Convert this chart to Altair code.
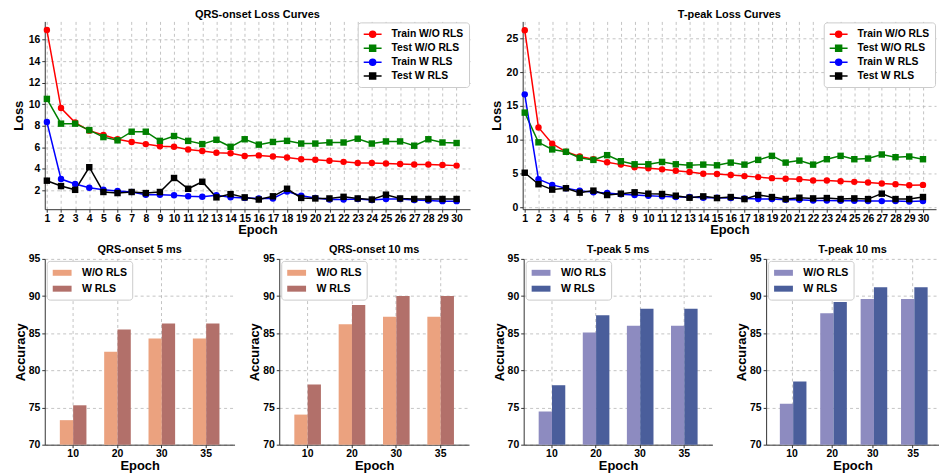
import altair as alt
import pandas as pd

epochs = list(range(1, 31))
series_names = ["Train W/O RLS", "Test W/O RLS", "Train W RLS", "Test W RLS"]
series_colors = ["#ff0000", "#008000", "#0000ff", "#000000"]

qrs_train_wo = [16.9, 9.65, 8.3, 7.55, 7.15, 6.75, 6.5, 6.3, 6.1, 6.05, 5.8, 5.65, 5.5, 5.45, 5.2,
                5.25, 5.15, 5.05, 4.9, 4.85, 4.75, 4.65, 4.55, 4.55, 4.5, 4.45, 4.4, 4.4, 4.35, 4.3]
qrs_test_wo = [10.5, 8.2, 8.2, 7.6, 6.95, 6.65, 7.45, 7.45, 6.6, 7.05, 6.6, 6.3, 6.7, 6.05, 6.75,
               6.25, 6.5, 6.6, 6.35, 6.35, 6.45, 6.45, 6.8, 6.35, 6.55, 6.55, 6.15, 6.75, 6.45, 6.4]
qrs_train_w = [8.35, 3.05, 2.6, 2.25, 2.05, 1.95, 1.85, 1.6, 1.6, 1.55, 1.45, 1.4, 1.55, 1.35, 1.3,
               1.25, 1.25, 1.9, 1.5, 1.3, 1.15, 1.15, 1.2, 1.1, 1.2, 1.2, 1.1, 1.05, 1.0, 1.0]
qrs_test_w = [2.9, 2.4, 2.05, 4.15, 1.85, 1.75, 1.85, 1.75, 1.85, 3.15, 2.15, 2.8, 1.35, 1.65, 1.35,
              1.15, 1.45, 2.15, 1.3, 1.25, 1.25, 1.4, 1.25, 1.15, 1.6, 1.25, 1.2, 1.2, 1.2, 1.2]

tp_train_wo = [26.2, 11.8, 9.4, 8.2, 7.5, 7.1, 6.65, 6.3, 5.9, 5.75, 5.6, 5.4, 5.2, 4.95, 4.9,
               4.75, 4.6, 4.45, 4.3, 4.2, 4.15, 3.95, 3.95, 3.85, 3.75, 3.65, 3.5, 3.4, 3.25, 3.3]
tp_test_wo = [14.0, 9.6, 8.55, 8.2, 7.3, 7.0, 7.7, 6.8, 6.35, 6.35, 6.7, 6.35, 6.2, 6.3, 6.2,
              6.6, 6.3, 7.0, 7.6, 6.6, 6.9, 6.3, 7.1, 7.6, 7.1, 7.2, 7.8, 7.4, 7.5, 7.1]
tp_train_w = [16.7, 4.15, 3.3, 2.8, 2.45, 2.2, 2.1, 1.9, 1.8, 1.7, 1.6, 1.5, 1.5, 1.4, 1.4,
              1.35, 1.3, 1.2, 1.2, 1.1, 1.1, 1.0, 1.0, 0.95, 0.95, 0.9, 0.9, 0.9, 0.85, 0.9]
tp_test_w = [5.1, 3.4, 2.6, 2.8, 2.15, 2.45, 1.8, 2.0, 2.2, 2.0, 1.95, 1.7, 1.4, 1.6, 1.35,
             1.5, 1.2, 1.8, 1.5, 1.2, 1.4, 1.3, 1.35, 1.2, 1.3, 1.2, 2.0, 1.2, 1.2, 1.5]

bar_epochs = ["10", "20", "30", "35"]
groups = ["W/O RLS", "W RLS"]
qrs5_wo = [73.3, 82.5, 84.3, 84.3]
qrs5_w = [75.3, 85.5, 86.3, 86.3]
qrs10_wo = [74.05, 86.2, 87.2, 87.2]
qrs10_w = [78.1, 88.8, 90.0, 90.0]
tp5_wo = [74.45, 85.1, 86.0, 86.0]
tp5_w = [78.0, 87.4, 88.3, 88.3]
tp10_wo = [75.5, 87.7, 89.6, 89.6]
tp10_w = [78.5, 89.2, 91.2, 91.2]
qrs_bar_colors = ["#eba27f", "#b2706a"]
tp_bar_colors = ["#8d8bc0", "#4a5e9b"]

FONT = "Liberation Sans"
CIRCLE_LINE = "M-1.5,0H1.5M-0.5,0A0.5,0.5,0,1,1,0.5,0A0.5,0.5,0,1,1,-0.5,0Z"
SQUARE_LINE = "M-1.5,0H1.5M-0.5,-0.5H0.5V0.5H-0.5Z"
BAR_PATCH = "M-1.58,-0.5H1.58V0.5H-1.58Z"
legend_shapes = [CIRCLE_LINE if n.startswith("Train") else SQUARE_LINE for n in series_names]


def loss_df(a, b, c, d):
    rows = []
    for name, vals in zip(series_names, [a, b, c, d]):
        for e, v in zip(epochs, vals):
            rows.append({"epoch": e, "value": v, "series": name})
    return pd.DataFrame(rows)


def make_loss_legend():
    return alt.Legend(
        title=None, orient="top-right", offset=1, symbolSize=144, symbolStrokeWidth=1.5,
        symbolType=CIRCLE_LINE, symbolOffset=3,
        labelFontSize=10.4, labelFont=FONT, labelFontWeight="bold", labelColor="black",
        fillColor="white", strokeColor="#cccccc", cornerRadius=3, padding=5,
        rowPadding=1, labelOffset=12, symbolOpacity=1,
    )


def loss_panel(df, title, ydomain, yticks, width):
    base = alt.Chart(df)
    x = alt.X("epoch:Q", scale=alt.Scale(domain=[0.85, 30.95], nice=False, zero=False),
              axis=alt.Axis(values=epochs, title="Epoch", titlePadding=0, labelPadding=1,
                            labelFlush=False, tickSize=3))
    y = alt.Y("value:Q", scale=alt.Scale(domain=ydomain, nice=False, zero=False),
              axis=alt.Axis(values=yticks, title="Loss", tickSize=3, titlePadding=3))
    # colour scale for the drawn marks (same mapping, listed in reverse so it is kept apart
    # from the legend scales below)
    color = alt.Color("series:N",
                      scale=alt.Scale(domain=series_names[::-1], range=series_colors[::-1]),
                      legend=None)
    legend_layer = base.mark_point(filled=True, opacity=0).encode(
        x=x, y=y,
        fill=alt.Fill("series:N", scale=alt.Scale(domain=series_names, range=series_colors),
                      legend=make_loss_legend()),
        stroke=alt.Stroke("series:N", scale=alt.Scale(domain=series_names, range=series_colors),
                          legend=make_loss_legend()),
        shape=alt.Shape("series:N", scale=alt.Scale(domain=series_names, range=legend_shapes),
                        legend=make_loss_legend()),
    )
    lines = base.mark_line(strokeWidth=1.5).encode(x=x, y=y, color=color)
    circles = base.transform_filter(
        alt.FieldOneOfPredicate(field="series", oneOf=["Train W/O RLS", "Train W RLS"])
    ).mark_point(shape="circle", filled=True, size=42, opacity=1).encode(x=x, y=y, color=color)
    squares = base.transform_filter(
        alt.FieldOneOfPredicate(field="series", oneOf=["Test W/O RLS", "Test W RLS"])
    ).mark_point(shape="square", filled=True, size=42, opacity=1).encode(x=x, y=y, color=color)
    return alt.layer(legend_layer, lines, circles, squares).properties(
        width=width, height=189, title=alt.Title(title, offset=1))


def acc_panel(wo, w, title, colors, width):
    rows = []
    for g, vals in zip(groups, [wo, w]):
        for e, v in zip(bar_epochs, vals):
            rows.append({"epoch": e, "group": g, "value": v})
    df = pd.DataFrame(rows)
    return alt.Chart(df).mark_bar().encode(
        x=alt.X("epoch:N", sort=bar_epochs,
                scale=alt.Scale(paddingInner=0.4, paddingOuter=0.34),
                axis=alt.Axis(labelAngle=0, title="Epoch", bandPosition=0.5, grid=True, tickSize=3,
                              labelPadding=1, titlePadding=0)),
        xOffset=alt.XOffset("group:N", sort=groups, scale=alt.Scale(paddingInner=0, paddingOuter=0)),
        y=alt.Y("value:Q", scale=alt.Scale(domain=[70, 95], nice=False, zero=False, clamp=True),
                axis=alt.Axis(values=[70, 75, 80, 85, 90, 95], title="Accuracy", tickSize=3, titlePadding=1)),
        color=alt.Color("group:N", sort=groups, scale=alt.Scale(domain=groups, range=colors),
                        legend=alt.Legend(title=None, orient="top-left", offset=2,
                                          symbolType=BAR_PATCH, symbolSize=144, symbolOffset=3.5,
                                          labelFontSize=10.6, labelFont=FONT, labelFontWeight="bold",
                                          labelColor="black", fillColor="white", strokeColor="#cccccc",
                                          cornerRadius=3, padding=5, rowPadding=3, labelOffset=13,
                                          symbolOpacity=1)),
    ).properties(width=width, height=187, title=alt.Title(title, offset=-1))


qrs_loss = loss_panel(loss_df(qrs_train_wo, qrs_test_wo, qrs_train_w, qrs_test_w),
                      "QRS-onset Loss Curves", [0.25, 17.7], [2, 4, 6, 8, 10, 12, 14, 16], 428)
tp_loss = loss_panel(loss_df(tp_train_wo, tp_test_wo, tp_train_w, tp_test_w),
                     "T-peak Loss Curves", [-0.3, 27.5], [0, 5, 10, 15, 20, 25], 416)

c1 = acc_panel(qrs5_wo, qrs5_w, "QRS-onset 5 ms", qrs_bar_colors, 191)
c2 = acc_panel(qrs10_wo, qrs10_w, "QRS-onset 10 ms", qrs_bar_colors, 191)
c3 = acc_panel(tp5_wo, tp5_w, "T-peak 5 ms", tp_bar_colors, 190)
c4 = acc_panel(tp10_wo, tp10_w, "T-peak 10 ms", tp_bar_colors, 174)

top = alt.hconcat(qrs_loss, tp_loss, spacing=20).resolve_scale(
    color="independent", fill="independent", stroke="independent", shape="independent")
bottom = alt.hconcat(
    alt.hconcat(c1, c2, spacing=14).resolve_scale(color="independent"),
    alt.hconcat(c3, c4, spacing=23).resolve_scale(color="independent"),
    spacing=24,
).resolve_scale(color="independent")

chart = alt.vconcat(top, bottom, spacing=7).properties(
    padding={"left": 4, "top": 0, "right": 0, "bottom": 0}
).configure(
    font=FONT,
).configure_view(
    stroke=None,
).configure_axis(
    labelFont=FONT, labelFontSize=10.5, labelFontWeight="bold", labelColor="black",
    titleFont=FONT, titleFontSize=13, titleFontWeight="bold", titleColor="black",
    domainColor="#333333", domainWidth=1, tickColor="#333333",
    gridColor="#b5b5b5", gridDash=[3, 3], gridWidth=0.8,
).configure_title(
    font=FONT, fontSize=11, fontWeight="bold", color="black",
)

chart.save("out.html", embed_options={"renderer": "svg", "actions": False})
